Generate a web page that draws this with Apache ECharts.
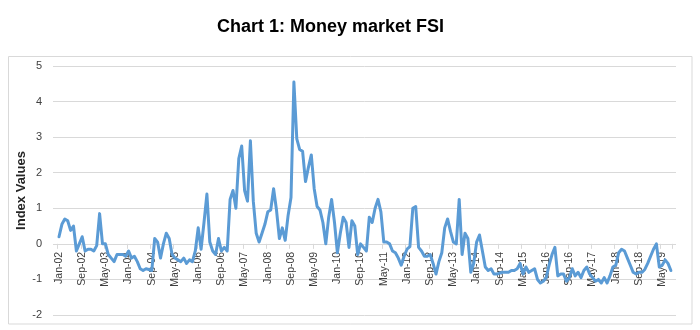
<!DOCTYPE html>
<html>
<head>
<meta charset="utf-8">
<script src="https://cdn.jsdelivr.net/npm/echarts@6/dist/echarts.min.js"></script>
<style>
  html, body { margin: 0; padding: 0; background: #fff; }
  #chart { width: 700px; height: 330px; }
</style>
</head>
<body>
<div id="chart"></div>
<script>
// Money market financial stress index, monthly, Jan-2002 onwards
const monthNames = ['Jan', 'Feb', 'Mar', 'Apr', 'May', 'Jun', 'Jul', 'Aug', 'Sep', 'Oct', 'Nov', 'Dec'];
const startYear = 2002;

const fsiValues = [
  // 2002
  0.2, 0.55, 0.7, 0.65, 0.38, 0.5, -0.2, 0.0, 0.2, -0.2, -0.15, -0.15,
  // 2003
  -0.2, -0.05, 0.85, 0.0, 0.0, -0.3, -0.4, -0.5, -0.3, -0.3, -0.3, -0.35,
  // 2004
  -0.2, -0.4, -0.35, -0.5, -0.7, -0.75, -0.7, -0.72, -0.75, 0.15, 0.05, -0.4,
  // 2005
  0.0, 0.3, 0.15, -0.3, -0.4, -0.45, -0.5, -0.4, -0.55, -0.45, -0.5, -0.2,
  // 2006
  0.45, -0.15, 0.6, 1.4, 0.05, -0.2, -0.3, 0.15, -0.2, -0.1, -0.2, 1.25,
  // 2007
  1.5, 1.0, 2.4, 2.75, 1.5, 1.2, 2.9, 1.2, 0.3, 0.05, 0.3, 0.55,
  // 2008
  0.9, 0.95, 1.55, 0.95, 0.15, 0.45, 0.1, 0.8, 1.3, 4.55, 2.95, 2.65,
  // 2009
  2.6, 1.75, 2.15, 2.5, 1.55, 1.05, 0.95, 0.6, 0.0, 0.75, 1.25, 0.6,
  // 2010
  -0.25, 0.3, 0.75, 0.6, -0.1, 0.65, 0.5, -0.3, 0.0, -0.1, -0.2, 0.75,
  // 2011
  0.6, 1.0, 1.25, 0.9, 0.05, 0.05, 0.0, -0.2, -0.25, -0.4, -0.6, -0.35,
  // 2012
  -0.15, -0.08, 1.0, 1.05, -0.1, -0.2, -0.35, -0.35, -0.3, -0.55, -0.85, -0.5,
  // 2013
  -0.25, 0.45, 0.7, 0.35, 0.05, 0.0, 1.25, -0.3, 0.3, 0.15, -0.8, -0.55,
  // 2014
  0.05, 0.25, -0.2, -0.65, -0.75, -0.7, -0.85, -0.85, -0.82, -0.8, -0.8, -0.8,
  // 2015
  -0.75, -0.75, -0.7, -0.55, -0.85, -0.65, -0.8, -0.75, -0.7, -1.0, -1.1, -1.05,
  // 2016
  -0.95, -0.6, -0.3, -0.1, -0.9, -0.85, -0.85, -1.05, -0.95, -0.7, -0.9, -0.8,
  // 2017
  -0.95, -0.75, -0.65, -0.85, -0.95, -1.05, -1.0, -1.1, -0.95, -1.1, -0.9, -0.65,
  // 2018
  -0.6, -0.25, -0.15, -0.2, -0.4, -0.6, -0.8, -0.85, -0.8, -0.8, -0.72, -0.55,
  // 2019
  -0.35, -0.15, 0.0, -0.65, -0.6, -0.45, -0.55, -0.75
];

// Category labels such as "Jan-02", one per month
const categories = fsiValues.map(function (_, i) {
  const yy = (startYear + Math.floor(i / 12)) % 100;
  return monthNames[i % 12] + '-' + String(yy).padStart(2, '0');
});

const yMin = -2, yMax = 5, yStep = 1;
const labelEvery = 8;

// Plot area (pixels)
const plotTop = 66, plotBottom = 15, chartHeight = 330;
const plotHeight = chartHeight - plotTop - plotBottom;
// lift the month axis from the bottom edge up to the zero line
const zeroLineOffset = -plotHeight * (0 - yMin) / (yMax - yMin);

const chart = echarts.init(document.getElementById('chart'), null, { renderer: 'canvas' });

chart.setOption({
  animation: false,
  backgroundColor: '#ffffff',
  title: {
    text: 'Chart 1: Money market FSI',
    left: 217,
    top: 18,
    padding: 0,
    textStyle: {
      fontFamily: 'Liberation Sans',
      fontSize: 18,
      fontWeight: 'bold',
      color: '#000000'
    }
  },
  graphic: [{
    type: 'rect',
    silent: true,
    shape: { x: 8.5, y: 56.5, width: 683.5, height: 267.5 },
    style: { fill: 'none', stroke: '#d9d9d9', lineWidth: 1 }
  }],
  grid: [
    // background grid: horizontal gridlines and value labels
    { left: 53, right: 24, top: plotTop, bottom: plotBottom, containLabel: false, outerBoundsMode: 'none' },
    // plotting grid for the line and the month axis
    { left: 57.55, right: 27.65, top: plotTop, bottom: plotBottom, containLabel: false, outerBoundsMode: 'none' }
  ],
  xAxis: [
    { gridIndex: 0, type: 'category', data: categories, show: false },
    {
      gridIndex: 1,
      type: 'category',
      data: categories,
      position: 'bottom',
      offset: zeroLineOffset,
      boundaryGap: true,
      axisLine: { show: true, onZero: false, lineStyle: { color: '#d9d9d9', width: 1 } },
      axisTick: { show: true, interval: labelEvery - 1, length: 5, lineStyle: { color: '#d9d9d9' } },
      axisLabel: {
        interval: labelEvery - 1,
        rotate: 90,
        margin: 8,
        fontFamily: 'Liberation Sans',
        fontSize: 10.5,
        color: '#404040'
      },
      splitLine: { show: false }
    }
  ],
  yAxis: [
    {
      gridIndex: 0,
      type: 'value',
      min: yMin,
      max: yMax,
      interval: yStep,
      axisLine: { show: false },
      axisTick: { show: false },
      splitLine: { show: true, lineStyle: { color: '#d9d9d9', width: 1 } },
      axisLabel: { margin: 11, fontFamily: 'Liberation Sans', fontSize: 11, color: '#404040' },
      name: 'Index Values',
      nameLocation: 'middle',
      nameGap: 25,
      nameMoveOverlap: false,
      nameTextStyle: { fontFamily: 'Liberation Sans', fontSize: 13, fontWeight: 'bold', color: '#262626' }
    },
    {
      gridIndex: 1,
      type: 'value',
      min: yMin,
      max: yMax,
      interval: yStep,
      axisLine: { show: false },
      axisTick: { show: false },
      axisLabel: { show: false },
      splitLine: { show: false }
    }
  ],
  series: [{
    name: 'Money market FSI',
    type: 'line',
    xAxisIndex: 1,
    yAxisIndex: 1,
    data: fsiValues,
    showSymbol: false,
    symbol: 'none',
    lineStyle: { color: '#5B9BD5', width: 3, join: 'round', cap: 'round' },
    itemStyle: { color: '#5B9BD5' }
  }]
});
</script>
</body>
</html>
